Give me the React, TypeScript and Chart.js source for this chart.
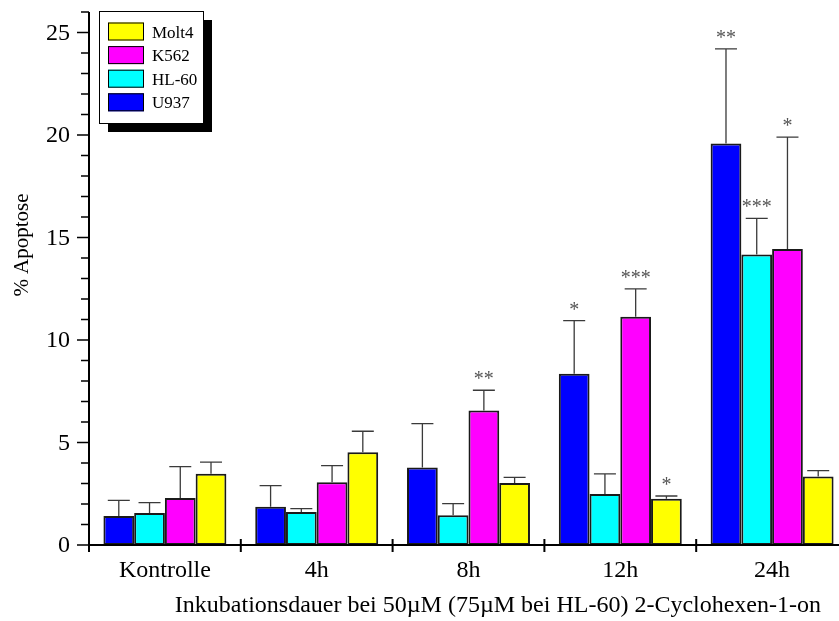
import React, { useEffect, useRef } from "react";
import { Chart, registerables } from "chart.js";

Chart.register(...registerables);

const categories = ["Kontrolle", "4h", "8h", "12h", "24h"];
const seriesNames = ["U937", "HL-60", "K562", "Molt4"];
const seriesColors = ["#0000ff", "#00ffff", "#ff00ff", "#ffff00"];

const u937 = [1.42, 1.87, 3.78, 8.35, 19.58];
const hl60 = [1.56, 1.61, 1.45, 2.49, 14.17];
const k562 = [2.29, 3.06, 6.56, 11.13, 14.44];
const molt4 = [3.48, 4.52, 3.03, 2.26, 3.34];

const u937Err = [0.76, 1.03, 2.14, 2.6, 4.62];
const hl60Err = [0.51, 0.16, 0.57, 0.98, 1.76];
const k562Err = [1.53, 0.81, 0.99, 1.36, 5.46];
const molt4Err = [0.56, 1.03, 0.27, 0.13, 0.29];

const u937Sig = ["", "", "", "*", "**"];
const hl60Sig = ["", "", "", "", "***"];
const k562Sig = ["", "", "**", "***", "*"];
const molt4Sig = ["", "", "", "*", ""];

const yMin = 0;
const yMax = 26;
const yMajorStep = 5;
const yTickLabels = [0, 5, 10, 15, 20, 25];

const yTitle = "% Apoptose";
const xTitle = "Inkubationsdauer bei 50\u00b5M (75\u00b5M bei HL-60) 2-Cyclohexen-1-on";

const FONT = "'Liberation Serif', 'Times New Roman', serif";

const values = [u937, hl60, k562, molt4];
const errors = [u937Err, hl60Err, k562Err, molt4Err];
const sigs = [u937Sig, hl60Sig, k562Sig, molt4Sig];

const overlayPlugin = {
  id: "overlay",
  afterDatasetsDraw(chart: any) {
    const ctx = chart.ctx;
    const area = chart.chartArea;
    const yScale = chart.scales.y;
    const xScale = chart.scales.x;
    ctx.save();

    // error bars and significance marks
    chart.data.datasets.forEach((ds: any, di: number) => {
      const meta = chart.getDatasetMeta(di);
      meta.data.forEach((bar: any, i: number) => {
        const v = values[di][i];
        const e = errors[di][i];
        const x = bar.x;
        const yTop = yScale.getPixelForValue(v);
        const yErr = yScale.getPixelForValue(v + e);
        ctx.strokeStyle = "#3a3a3a";
        ctx.lineWidth = 1.3;
        ctx.beginPath();
        ctx.moveTo(x, yTop);
        ctx.lineTo(x, yErr);
        ctx.moveTo(x - 11, yErr);
        ctx.lineTo(x + 11, yErr);
        ctx.stroke();
        const s = sigs[di][i];
        if (s) {
          ctx.fillStyle = "#555555";
          ctx.font = `20px ${FONT}`;
          ctx.textAlign = "center";
          ctx.textBaseline = "alphabetic";
          ctx.fillText(s, x, yErr - 5);
        }
      });
    });

    // y axis line and ticks
    ctx.strokeStyle = "#000";
    ctx.lineWidth = 2;
    ctx.beginPath();
    ctx.moveTo(area.left, yScale.getPixelForValue(yMax));
    ctx.lineTo(area.left, area.bottom + 7);
    ctx.stroke();
    ctx.lineWidth = 1.5;
    ctx.beginPath();
    for (let v = yMin; v <= yMax; v++) {
      const py = yScale.getPixelForValue(v);
      const len = v % yMajorStep === 0 ? 12 : 8;
      ctx.moveTo(area.left - len, py);
      ctx.lineTo(area.left, py);
    }
    ctx.stroke();

    // y tick labels
    ctx.fillStyle = "#000";
    ctx.font = `24px ${FONT}`;
    ctx.textAlign = "right";
    ctx.textBaseline = "middle";
    yTickLabels.forEach((v) => {
      ctx.fillText(String(v), area.left - 19, yScale.getPixelForValue(v) + 1);
    });

    // x axis line and category separators
    ctx.lineWidth = 2;
    ctx.beginPath();
    ctx.moveTo(area.left, area.bottom);
    ctx.lineTo(chart.width, area.bottom);
    ctx.stroke();
    const n = categories.length;
    const cw = (xScale.right - xScale.left) / n;
    ctx.beginPath();
    for (let i = 0; i <= n; i++) {
      const px = xScale.left + i * cw;
      ctx.moveTo(px, area.bottom - 6);
      ctx.lineTo(px, area.bottom + 7);
    }
    ctx.stroke();

    // y title
    ctx.fillStyle = "#000";
    ctx.font = `21px ${FONT}`;
    ctx.textAlign = "center";
    ctx.textBaseline = "alphabetic";
    ctx.save();
    ctx.translate(28, 245);
    ctx.rotate(-Math.PI / 2);
    ctx.fillText(yTitle, 0, 0);
    ctx.restore();

    // x title
    ctx.font = `24px ${FONT}`;
    ctx.textAlign = "right";
    ctx.fillText(xTitle, 821, 612);

    // legend
    const lx = 99, ly = 11, lw = 104, lh = 112;
    ctx.fillStyle = "#000";
    ctx.fillRect(lx + 9, ly + 9, lw, lh);
    ctx.fillStyle = "#fff";
    ctx.fillRect(lx, ly, lw, lh);
    ctx.strokeStyle = "#000";
    ctx.lineWidth = 1;
    ctx.strokeRect(lx + 0.5, ly + 0.5, lw, lh);
    const order = [3, 2, 1, 0];
    order.forEach((di, k) => {
      const cy = 31.5 + k * 23.6;
      ctx.fillStyle = seriesColors[di];
      ctx.fillRect(108, cy - 9, 36, 18);
      ctx.strokeStyle = "#000";
      ctx.lineWidth = 1;
      ctx.strokeRect(108.5, cy - 8.5, 35, 17);
      ctx.fillStyle = "#000";
      ctx.font = `17px ${FONT}`;
      ctx.textAlign = "left";
      ctx.textBaseline = "alphabetic";
      ctx.fillText(seriesNames[di], 152, cy + 6);
    });

    ctx.restore();
  },
};

export default function App() {
  const ref = useRef<HTMLCanvasElement | null>(null);
  useEffect(() => {
    document.body.style.margin = "0";
    document.body.style.overflow = "hidden";
    const canvas = ref.current;
    if (!canvas) return;
    const chart = new Chart(canvas, {
      type: "bar",
      data: {
        labels: categories,
        datasets: seriesNames.map((name, di) => ({
          label: name,
          data: values[di],
          backgroundColor: seriesColors[di],
          borderColor: "#1a1a1a",
          borderWidth: 2,
          borderSkipped: false as any,
          barPercentage: 1,
          categoryPercentage: 0.81,
        })),
      },
      options: {
        animation: false,
        responsive: false,
        devicePixelRatio: 1,
        layout: { padding: { top: 12, left: 0, right: 0, bottom: 0 } },
        plugins: { legend: { display: false }, tooltip: { enabled: false } },
        scales: {
          x: {
            grid: { display: false, drawTicks: false },
            border: { display: false },
            ticks: {
              font: { family: FONT, size: 24 },
              color: "#000",
              padding: 11,
              maxRotation: 0,
            },
            afterFit: (s: any) => {
              s.height = 76;
            },
          },
          y: {
            min: yMin,
            max: yMax,
            grid: { display: false, drawTicks: false },
            border: { display: false },
            ticks: { display: false, stepSize: 1 },
            afterFit: (s: any) => {
              s.width = 89;
            },
          },
        },
      },
      plugins: [overlayPlugin],
    });
    return () => chart.destroy();
  }, []);
  return (
    <div style={{ width: 839, height: 621, overflow: "hidden", position: "relative", background: "#fff" }}>
      <canvas ref={ref} width={848} height={621} style={{ display: "block" }} />
    </div>
  );
}
